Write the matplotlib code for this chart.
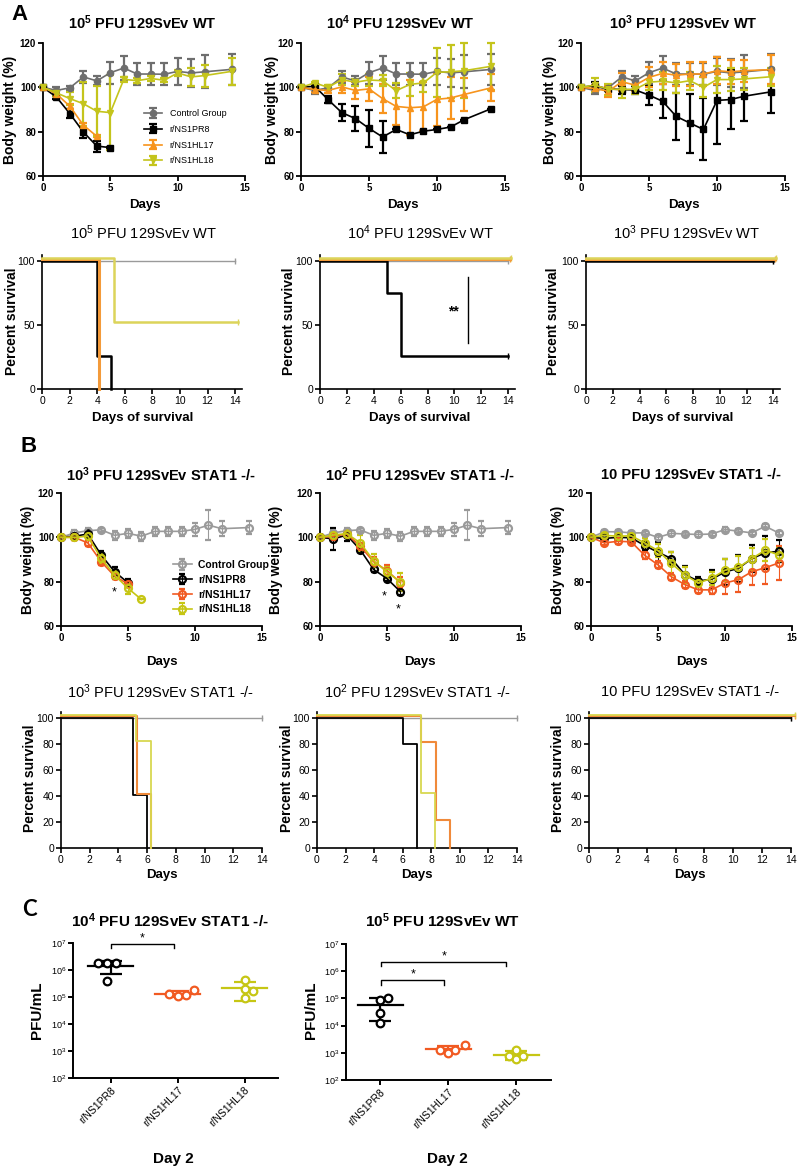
import numpy as np
import matplotlib.pyplot as plt

plt.rcParams['font.family'] = ['Liberation Sans', 'DejaVu Sans']
plt.rcParams['font.weight'] = 'bold'
plt.rcParams['mathtext.fontset'] = 'custom'
plt.rcParams['mathtext.rm'] = 'Liberation Sans'
plt.rcParams['mathtext.bf'] = 'Liberation Sans:bold'
plt.rcParams['mathtext.default'] = 'regular'

NARROW = ['Liberation Sans Narrow', 'Liberation Sans', 'DejaVu Sans']

#%%%%%%%%%% Datos
groups = ['Control Group', 'r/NS1PR8', 'r/NS1HL17', 'r/NS1HL18']

# A: peso corporal, 129SvEv WT
days_a = [0, 1, 2, 3, 4, 5, 6, 7, 8, 9, 10, 11, 12, 14]
ctrl_a = [100, 98.6, 99.8, 104.7, 102.9, 106.6, 108.7, 106.0, 106.0, 105.9, 107.2, 106.5, 107.0, 108.1]
ctrl_a_sd = [0, 1.5, 0.8, 2.7, 2.0, 5.0, 5.3, 5.0, 5.0, 4.9, 6.0, 6.4, 7.5, 7.0]

a5_pr8 = [100, 95.6, 88.1, 79.8, 73.5, 72.8]
a5_pr8_sd = [0, 1.0, 2.0, 2.5, 2.5, 0.5]
a5_hl17 = [100, 97.1, 91.4, 82.9, 77.9]
a5_hl17_sd = [0, 1.0, 1.0, 1.0, 0.5]
a5_hl18 = [100, 97.5, 94.9, 92.6, 89.2, 88.6, 103.6, 103.0, 104.0, 103.2, 106.5, 104.7, 105.3, 107.2]
a5_hl18_sd = [0, 1.5, 3.0, 10.0, 11.3, 17.0, 1.0, 1.0, 1.0, 1.0, 1.5, 4.0, 5.0, 6.0]

a4_pr8 = [100, 100.5, 94.4, 88.6, 85.9, 81.5, 77.6, 81.0, 78.6, 80.2, 81.0, 82.1, 85.4, 90.4]
a4_pr8_sd = [0, 0.5, 1.5, 3.7, 5.8, 8.3, 7.0, 0, 0, 0, 0, 0, 0, 0]
a4_hl17 = [100, 99.0, 98.6, 100.2, 98.6, 99.3, 94.9, 91.4, 90.8, 91.2, 94.6, 95.2, 96.8, 99.8]
a4_hl17_sd = [0, 1.0, 1.0, 2.7, 3.7, 5.5, 6.5, 8.5, 12.5, 11.0, 12.0, 9.5, 7.5, 6.0]
a4_hl18 = [100, 102.0, 100.0, 103.5, 102.3, 103.3, 103.0, 98.5, 101.3, 102.0, 106.8, 107.0, 107.5, 109.5]
a4_hl18_sd = [0, 0.5, 1.0, 2.5, 1.5, 2.5, 2.5, 3.5, 5.0, 4.0, 11.0, 12.0, 12.5, 10.5]

a3_pr8 = [100, 100.8, 99.3, 99.0, 98.8, 96.5, 93.7, 86.9, 83.9, 81.0, 94.1, 94.5, 96.0, 98.0]
a3_pr8_sd = [0, 1.5, 1.0, 1.8, 1.8, 4.3, 7.7, 10.5, 13.3, 14.0, 19.5, 13.2, 11.2, 9.8]
a3_hl17 = [100, 99.5, 98.2, 102.5, 101.0, 104.5, 106.3, 105.5, 106.0, 106.0, 107.5, 107.0, 107.5, 108.0]
a3_hl17_sd = [0, 1.5, 2.5, 4.0, 2.5, 4.5, 5.0, 5.0, 5.5, 5.5, 6.0, 5.5, 5.0, 6.5]
a3_hl18 = [100, 101.0, 99.2, 99.0, 99.2, 102.3, 102.8, 102.0, 103.0, 100.0, 103.5, 103.5, 103.8, 104.8]
a3_hl18_sd = [0, 3.0, 2.5, 4.0, 2.0, 3.3, 4.0, 4.5, 4.0, 4.5, 6.0, 5.0, 5.0, 4.0]

# A: supervivencia (tiempos de cambio y % sobrevida)
sa5_t = {'ctrl': [0, 14], 'pr8': [0, 4, 5], 'hl17': [0, 4], 'hl18': [0, 5, 14]}
sa5_s = {'ctrl': [100, 100], 'pr8': [100, 25, 0], 'hl17': [100, 0], 'hl18': [100, 50, 50]}
sa4_t = {'ctrl': [0, 14], 'pr8': [0, 5, 6, 14], 'hl17': [0, 14], 'hl18': [0, 14]}
sa4_s = {'ctrl': [100, 100], 'pr8': [100, 75, 25, 25], 'hl17': [100, 100], 'hl18': [100, 100]}
sa3_t = {'ctrl': [0, 14], 'pr8': [0, 14], 'hl17': [0, 14], 'hl18': [0, 14]}
sa3_s = {'ctrl': [100, 100], 'pr8': [100, 100], 'hl17': [100, 100], 'hl18': [100, 100]}

# B: peso corporal, 129SvEv STAT1 -/-
days_b = [0, 1, 2, 3, 4, 5, 6, 7, 8, 9, 10, 11, 12, 14]
ctrl_b = [100, 102.0, 103.0, 103.4, 100.9, 101.8, 100.5, 102.7, 102.7, 102.7, 103.6, 105.5, 103.9, 104.4]
ctrl_b_sd = [0, 1.5, 1.0, 1.0, 2.0, 2.0, 2.0, 2.0, 2.0, 2.0, 3.0, 6.7, 3.5, 2.8]

b3_pr8 = [100, 100.5, 101.5, 92.0, 84.5, 79.5]
b3_pr8_sd = [0, 1.0, 2.0, 2.0, 2.0, 1.5]
b3_hl17 = [100, 100.0, 97.5, 89.0, 82.5, 79.0]
b3_hl17_sd = [0, 1.0, 1.5, 1.5, 1.5, 1.5]
b3_hl18 = [100, 100.0, 100.5, 90.5, 83.0, 77.0, 72.0]
b3_hl18_sd = [0, 1.0, 1.5, 2.0, 2.0, 2.5, 0]

b2_pr8 = [100, 99.3, 101.0, 94.4, 85.5, 81.4, 75.5]
b2_pr8_sd = [0, 5.0, 2.5, 1.0, 1.0, 1.0, 1.5]
b2_hl17 = [100, 100.5, 101.5, 96.0, 89.0, 85.0, 79.5]
b2_hl17_sd = [0, 1.5, 1.5, 1.5, 2.0, 2.5, 2.5]
b2_hl18 = [100, 101.0, 101.7, 97.5, 89.5, 84.3, 80.0]
b2_hl18_sd = [0, 1.5, 1.5, 3.5, 3.0, 2.5, 4.0]

days_b1 = list(range(15))
ctrl_b1 = [100, 102.5, 102.5, 102.0, 102.0, 100.0, 101.8, 101.5, 101.3, 101.5, 103.5, 102.8, 102.0, 105.0, 102.0]
ctrl_b1_sd = [0, 1.0, 1.0, 1.0, 1.0, 1.0, 1.0, 1.0, 1.0, 1.0, 1.0, 1.0, 1.0, 1.0, 1.0]
b1_pr8 = [100, 99.5, 100.0, 99.8, 96.3, 93.3, 90.4, 83.2, 80.3, 81.1, 84.4, 86.0, 90.4, 93.0, 93.7]
b1_pr8_sd = [0, 1.0, 1.0, 1.0, 2.0, 4.5, 3.0, 4.0, 2.0, 4.0, 6.0, 6.0, 6.0, 7.5, 5.0]
b1_hl17 = [100, 97.5, 98.2, 98.0, 91.9, 87.6, 82.2, 78.7, 76.3, 76.3, 79.4, 80.9, 84.5, 86.3, 88.4]
b1_hl17_sd = [0, 1.0, 1.0, 1.0, 1.5, 1.5, 1.5, 1.5, 1.5, 2.0, 5.0, 5.5, 6.0, 7.5, 7.5]
b1_hl18 = [100, 100.9, 100.5, 100.7, 97.5, 94.0, 88.2, 83.1, 79.4, 81.5, 85.2, 86.4, 90.4, 94.2, 92.1]
b1_hl18_sd = [0, 1.0, 1.0, 1.0, 2.0, 3.0, 5.0, 3.5, 2.0, 3.0, 5.0, 5.0, 5.0, 5.0, 3.0]

# B: supervivencia
sb3_t = {'ctrl': [0, 14], 'pr8': [0, 5, 6], 'hl17': [0, 5, 6], 'hl18': [0, 5, 6]}
sb3_s = {'ctrl': [100, 100], 'pr8': [100, 40, 0], 'hl17': [100, 40, 0], 'hl18': [100, 80, 0]}
sb2_t = {'ctrl': [0, 14], 'pr8': [0, 6, 7], 'hl17': [0, 7, 8, 9], 'hl18': [0, 7, 8]}
sb2_s = {'ctrl': [100, 100], 'pr8': [100, 80, 0], 'hl17': [100, 80, 20, 0], 'hl18': [100, 40, 0]}
sb1_t = {'ctrl': [0, 14], 'pr8': [0, 14], 'hl17': [0, 14], 'hl18': [0, 14]}
sb1_s = {'ctrl': [100, 100], 'pr8': [100, 100], 'hl17': [100, 100], 'hl18': [100, 100]}

# C: títulos virales en pulmón, día 2 (PFU/mL)
virus = ['r/NS1PR8', 'r/NS1HL17', 'r/NS1HL18']
c_stat_pr8 = [1.77e6, 1.77e6, 1.85e6, 3.9e5]
c_stat_hl17 = [1.29e5, 1.06e5, 1.15e5, 1.87e5]
c_stat_hl18 = [4.4e5, 1.9e5, 1.6e5, 0.92e5]
c_wt_pr8 = [8.9e4, 1.0e5, 2.9e4, 1.3e4]
c_wt_hl17 = [1.3e3, 1.0e3, 1.25e3, 1.87e3]
c_wt_hl18 = [7.5e2, 6.0e2, 1.25e3, 7.5e2]

#%%%%%%%%%% Figura
W, H = 800, 1172
fig = plt.figure(figsize=(W / 100, H / 100), dpi=100)


def add_ax(l, t, r, b):
    # caja en pixeles (izq, arriba, der, abajo)
    return fig.add_axes([l / W, 1 - b / H, (r - l) / W, (b - t) / H])


def txt(x, y, s, **kw):
    fig.text(x / W, 1 - y / H, s, ha='center', va='center', **kw)


def base_style(ax, lw=1.3, narrow=False, size=7):
    for s in ['top', 'right']:
        ax.spines[s].set_visible(False)
    for s in ['left', 'bottom']:
        ax.spines[s].set_linewidth(lw)
    ax.tick_params(width=lw, length=3.5, labelsize=size, pad=1.5)
    for lab in ax.get_xticklabels() + ax.get_yticklabels():
        if narrow:
            lab.set_family(NARROW)
            lab.set_fontweight('normal')
        else:
            lab.set_fontweight('bold')


colA = {'ctrl': '#6e6e6e', 'pr8': 'black', 'hl17': '#f7941d', 'hl18': '#c4c41c'}
mkA = {'ctrl': 'o', 'pr8': 's', 'hl17': '^', 'hl18': 'v'}
colB = {'ctrl': '#9a9a9a', 'pr8': 'black', 'hl17': '#f15a22', 'hl18': '#c6c614'}
colS = {'ctrl': '#9a9a9a', 'pr8': 'black', 'hl17': '#f39a3a', 'hl18': '#dcd45a'}
keys = ['ctrl', 'pr8', 'hl17', 'hl18']


def weight_A(ax, series):
    for k, (vals, sd) in zip(keys, series):
        d = days_a[:len(vals)]
        ax.errorbar(d, vals, yerr=sd, color=colA[k], marker=mkA[k], ms=4.5,
                    lw=1.2, elinewidth=1.6, capsize=3, capthick=1.6,
                    label=groups[keys.index(k)], clip_on=False, zorder=3)
    ax.set_xlim(0, 15)
    ax.set_ylim(60, 120)
    ax.set_xticks([0, 5, 10, 15])
    ax.set_yticks([60, 80, 100, 120])
    base_style(ax)


def weight_B(ax, days, series):
    for k, (vals, sd) in zip(keys, series):
        d = days[:len(vals)]
        ax.errorbar(d, vals, yerr=sd, color=colB[k], marker='o', ms=5, mfc='none',
                    mew=1.6, lw=1.2, elinewidth=0.8, capsize=2, capthick=0.8,
                    label=groups[keys.index(k)], clip_on=False, zorder=3)
    ax.set_xlim(0, 15)
    ax.set_ylim(60, 120)
    ax.set_xticks([0, 5, 10, 15])
    ax.set_yticks([60, 80, 100, 120])
    base_style(ax)


# desplazamientos de GraphPad para curvas superpuestas (dx, dy)
offs = {'ctrl': (0, 0), 'pr8': (0, 0.6), 'hl17': (0.1, 1.6), 'hl18': (0.22, 2.4)}
lws = {'ctrl': 1.0, 'pr8': 1.8, 'hl17': 2.2, 'hl18': 1.8}


def survival(ax, tt, ss, xmax, yticks):
    for k in keys:
        t = np.array(tt[k], float)
        s = np.array(ss[k], float)
        dx, dy = offs[k]
        t[1:] = t[1:] + dx
        s = np.where(s > 0, s + dy, s)
        ax.step(t, s, where='post', color=colS[k], lw=lws[k], clip_on=False,
                zorder=2 if k == 'ctrl' else 3)
        if s[-1] > 0:
            ax.plot(t[-1], s[-1], marker='|', ms=4, mew=1.0, color=colS[k], clip_on=False)
    ax.set_xlim(0, xmax)
    ax.set_ylim(0, 105)
    ax.set_xticks(range(0, 15, 2))
    ax.set_yticks(yticks)
    base_style(ax, lw=1.2, narrow=True, size=7.5)


def titers(ax, data, jit, cols):
    for i, (vals, off, col) in enumerate(zip(data, jit, cols)):
        vals = np.array(vals)
        m, sd = vals.mean(), vals.std(ddof=1)
        ax.plot([i - 0.33, i + 0.33], [m, m], color=col, lw=1.6, zorder=2)
        ax.errorbar(i, m, yerr=[[sd], [sd]], color=col, lw=1.6, capsize=8,
                    capthick=1.6, fmt='none', zorder=2)
        ax.plot(i + np.array(off), vals, 'o', mfc='white', mec=col, mew=1.6, ms=5.5, zorder=3)
    ax.set_yscale('log')
    ax.set_ylim(1e2, 1e7)
    ax.minorticks_off()
    ax.set_xticks(range(3))
    ax.set_xticklabels(virus, rotation=45, ha='right', rotation_mode='anchor')
    base_style(ax, lw=1.4, size=6.5)
    for lab in ax.get_xticklabels():
        lab.set_fontweight('normal')
        lab.set_fontsize(7.5)
    for lab in ax.get_yticklabels():
        lab.set_fontweight('normal')


def bracket(ax, x0, x1, y, ylow, ystar):
    ax.plot([x0, x0, x1, x1], [ylow, y, y, ylow], color='black', lw=1.0, clip_on=False)
    ax.text((x0 + x1) / 2, ystar, '*', ha='center', va='center', fontsize=9,
            fontweight='normal', clip_on=False)


#%%%%%%%%%% Panel A - peso
a1 = add_ax(43, 43, 245, 176)
weight_A(a1, [(ctrl_a, ctrl_a_sd), (a5_pr8, a5_pr8_sd), (a5_hl17, a5_hl17_sd), (a5_hl18, a5_hl18_sd)])
a1.legend(loc='upper left', bbox_to_anchor=(0.47, 0.55), frameon=False,
          prop={'weight': 'normal', 'size': 6.5}, handlelength=2.0, labelspacing=0.75,
          borderpad=0.2, handletextpad=0.8)
a2 = add_ax(301, 43, 505, 176)
weight_A(a2, [(ctrl_a, ctrl_a_sd), (a4_pr8, a4_pr8_sd), (a4_hl17, a4_hl17_sd), (a4_hl18, a4_hl18_sd)])
a3 = add_ax(581, 43, 785, 176)
weight_A(a3, [(ctrl_a, ctrl_a_sd), (a3_pr8, a3_pr8_sd), (a3_hl17, a3_hl17_sd), (a3_hl18, a3_hl18_sd)])

#%%%%%%%%%% Panel A - supervivencia
s1 = add_ax(42, 255, 242, 389)
survival(s1, sa5_t, sa5_s, 14.5, [0, 50, 100])
s2 = add_ax(320, 255, 515, 389)
survival(s2, sa4_t, sa4_s, 14.5, [0, 50, 100])
s2.text(9.9, 61, '**', ha='center', va='center', fontsize=10)
s2.plot([11, 11], [36, 87.5], color='black', lw=1.0)
s3 = add_ax(586, 255, 780, 389)
survival(s3, sa3_t, sa3_s, 14.5, [0, 50, 100])

#%%%%%%%%%% Panel B - peso
b1 = add_ax(61, 493, 262, 626)
weight_B(b1, days_b, [(ctrl_b, ctrl_b_sd), (b3_pr8, b3_pr8_sd), (b3_hl17, b3_hl17_sd), (b3_hl18, b3_hl18_sd)])
b1.legend(loc='upper left', bbox_to_anchor=(0.52, 0.55), frameon=False,
          prop={'weight': 'bold', 'size': 7.5}, handlelength=1.8, labelspacing=0.45,
          borderpad=0.2, handletextpad=0.6)
b1.text(4, 75, '*', ha='center', va='center', fontsize=9, fontweight='normal')
b2 = add_ax(320, 493, 521, 626)
weight_B(b2, days_b, [(ctrl_b, ctrl_b_sd), (b2_pr8, b2_pr8_sd), (b2_hl17, b2_hl17_sd), (b2_hl18, b2_hl18_sd)])
b2.text(4.8, 73.5, '*', ha='center', va='center', fontsize=9, fontweight='normal')
b2.text(5.8, 67.5, '*', ha='center', va='center', fontsize=9, fontweight='normal')
b3 = add_ax(591, 493, 792, 626)
weight_B(b3, days_b1, [(ctrl_b1, ctrl_b1_sd), (b1_pr8, b1_pr8_sd), (b1_hl17, b1_hl17_sd), (b1_hl18, b1_hl18_sd)])

#%%%%%%%%%% Panel B - supervivencia
offs = {'ctrl': (0, 0), 'pr8': (0, 0.6), 'hl17': (0.3, 2.0), 'hl18': (0.25, 2.4)}
lws = {'ctrl': 1.0, 'pr8': 1.3, 'hl17': 1.5, 'hl18': 1.3}
colS = {'ctrl': '#9a9a9a', 'pr8': 'black', 'hl17': '#f08a3a', 'hl18': '#d8d850'}
c1 = add_ax(61, 712, 262, 848)
survival(c1, sb3_t, sb3_s, 14, range(0, 101, 20))
c2 = add_ax(317, 712, 517, 848)
survival(c2, sb2_t, sb2_s, 14, range(0, 101, 20))
c3 = add_ax(589, 712, 791, 848)
survival(c3, sb1_t, sb1_s, 14, range(0, 101, 20))

#%%%%%%%%%% Panel C - títulos
colC = ['black', '#f15a22', '#c6c614']
d1 = add_ax(73, 943, 278, 1078)
titers(d1, [c_stat_pr8, c_stat_hl17, c_stat_hl18],
       [[-0.18, -0.05, 0.08, -0.05], [-0.12, 0.0, 0.13, 0.25], [0.0, 0.0, 0.12, 0.0]], colC)
d1.set_xlim(-0.56, 2.5)
bracket(d1, 0.0, 0.95, 9.5e6, 6.8e6, 1.5e7)
d2 = add_ax(346, 944, 551, 1080)
titers(d2, [c_wt_pr8, c_wt_hl17, c_wt_hl18],
       [[0.0, 0.11, 0.0, 0.0], [-0.12, 0.0, 0.1, 0.25], [-0.1, 0.0, 0.0, 0.1]], colC)
d2.set_xlim(-0.5, 2.51)
bracket(d2, 0.02, 0.94, 4.9e5, 3.1e5, 7.5e5)
bracket(d2, 0.02, 1.85, 2.2e6, 1.5e6, 3.5e6)

#%%%%%%%%%% Textos
txt(19, 15, 'A', fontsize=16)
txt(29, 446, 'B', fontsize=16)
txt(29, 910, 'C', fontsize=16, family=['Lato', 'DejaVu Sans'])

tA = [r'10$^{\mathbf{5}}$ PFU 129SvEv WT', r'10$^{\mathbf{4}}$ PFU 129SvEv WT', r'10$^{\mathbf{3}}$ PFU 129SvEv WT']
tAs = [r'10$^{5}$ PFU 129SvEv WT', r'10$^{4}$ PFU 129SvEv WT', r'10$^{3}$ PFU 129SvEv WT']
tB = [r'10$^{\mathbf{3}}$ PFU 129SvEv STAT1 -/-', r'10$^{\mathbf{2}}$ PFU 129SvEv STAT1 -/-', '10 PFU 129SvEv STAT1 -/-']
tBs = [r'10$^{3}$ PFU 129SvEv STAT1 -/-', r'10$^{2}$ PFU 129SvEv STAT1 -/-', '10 PFU 129SvEv STAT1 -/-']

for x, t in zip([142, 400, 683], tA):
    txt(x, 23, t, fontsize=10.5)
for x, t in zip([143, 420, 686], tAs):
    txt(x, 233, t, fontsize=10.5, fontweight='normal', family=NARROW)
for x, t in zip([161, 420, 691], tB):
    txt(x, 475, t, fontsize=10.5)
for x, t in zip([161, 418, 690], tBs):
    txt(x, 692, t, fontsize=10.5, fontweight='normal', family=NARROW)
txt(170, 921, r'10$^{\mathbf{4}}$ PFU 129SvEv STAT1 -/-', fontsize=11)
txt(442, 921, r'10$^{\mathbf{5}}$ PFU 129SvEv WT', fontsize=11)

for x in [145, 403, 684]:
    txt(x, 205, 'Days', fontsize=9.5)
for x in [143, 420, 683]:
    txt(x, 418, 'Days of survival', fontsize=9.5)
for x in [162, 420, 692]:
    txt(x, 662, 'Days', fontsize=9.5)
for x in [162, 417, 690]:
    txt(x, 875, 'Days', fontsize=9.5)
for x in [173, 447]:
    txt(x, 1159, 'Day 2', fontsize=11)

for x in [10, 272, 550]:
    txt(x, 110, 'Body weight (%)', fontsize=10, rotation=90)
for x in [12, 289, 553]:
    txt(x, 321, 'Percent survival', fontsize=10, rotation=90)
for x in [28, 276, 558]:
    txt(x, 560, 'Body weight (%)', fontsize=10, rotation=90)
for x in [30, 287, 558]:
    txt(x, 778, 'Percent survival', fontsize=10, rotation=90)
for x in [37, 311]:
    txt(x, 1010, 'PFU/mL', fontsize=11, rotation=90)

fig.savefig('out.png', dpi=100)
